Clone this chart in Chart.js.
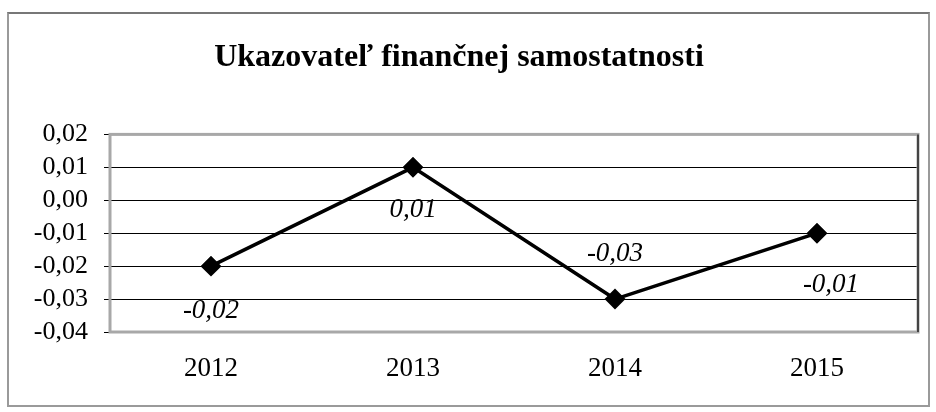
<!DOCTYPE html>
<html>
<head>
<meta charset="utf-8">
<script src="https://cdn.jsdelivr.net/npm/chart.js@4/dist/chart.umd.min.js"></script>
<style>
  html, body { margin: 0; padding: 0; background: #fff; }
  #frame {
    position: absolute; left: 7px; top: 12px; width: 919px; height: 391px;
    border: 2px solid #9a9a9a; border-top-color: #777;
  }
  #wrap { position: absolute; left: 0; top: 0; width: 936px; height: 412px; }
</style>
</head>
<body>
<div id="frame"></div>
<div id="wrap"><canvas id="linechart" width="936" height="412"></canvas></div>
<script>
// ukazovatel financnej samostatnosti
var years = ["2012", "2013", "2014", "2015"];
var values = [-0.02, 0.01, -0.03, -0.01];
var yTicks = [0.02, 0.01, 0.00, -0.01, -0.02, -0.03, -0.04];

function fmt(v) {
    return v.toFixed(2).replace(".", ",").replace("-0,00", "0,00");
}

// value labels next to the points, placed like in the original
var pointLabels = {
    id: "pointLabels",
    afterDatasetsDraw(chart, args, opts) {
        const ctx = chart.ctx;
        const meta = chart.getDatasetMeta(0);
        ctx.save();
        ctx.font = "italic 27px 'Liberation Serif'";
        ctx.fillStyle = "#000";
        ctx.textAlign = "center";
        ctx.textBaseline = "middle";
        meta.data.forEach((pt, i) => {
            ctx.fillText(fmt(values[i]), pt.x + opts.dx[i], pt.y + opts.dy[i]);
        });
        ctx.restore();
    }
};

var plotBorder = {
    id: "plotBorder",
    beforeDatasetsDraw(chart) {
        const a = chart.chartArea;
        const ctx = chart.ctx;
        ctx.save();
        ctx.strokeStyle = "#a8a8a8";
        ctx.lineWidth = 3;
        ctx.strokeRect(a.left, a.top, a.right - a.left, a.bottom - a.top);
        ctx.strokeStyle = "#444";
        ctx.lineWidth = 2;
        ctx.beginPath();
        ctx.moveTo(a.right, a.top);
        ctx.lineTo(a.right, a.bottom);
        ctx.stroke();
        ctx.restore();
    }
};

const ctx = document.getElementById("linechart").getContext("2d");

const config = {
    type: "line",
    data: {
        labels: years,
        datasets: [{
            data: values,
            borderColor: "#000",
            borderWidth: 3.5,
            backgroundColor: "#000",
            pointStyle: "rectRot",
            pointRadius: 8,
            pointHoverRadius: 8,
            tension: 0
        }]
    },
    options: {
        responsive: false,
        animation: false,
        layout: {
            padding: { left: 0, right: 18, top: 0, bottom: 0 }
        },
        scales: {
            x: {
                offset: true,
                grid: { display: false, drawTicks: false },
                border: { display: false },
                ticks: {
                    padding: 21,
                    color: "#000",
                    font: { family: "'Liberation Serif'", size: 27 }
                },
                afterFit: function(scale) { scale.height = 80; }
            },
            y: {
                min: -0.04,
                max: 0.02,
                afterBuildTicks: function(scale) {
                    scale.ticks = yTicks.map(v => ({ value: v }));
                },
                grid: {
                    color: function(c) {
                        return (c.index === 0 || c.index === yTicks.length - 1) ? "#a8a8a8" : "#000";
                    },
                    lineWidth: 1,
                    drawTicks: true,
                    tickLength: 6,
                    tickColor: "#000"
                },
                border: { display: false },
                ticks: {
                    autoSkip: false,
                    padding: 16,
                    color: "#000",
                    font: { family: "'Liberation Serif'", size: 26 },
                    callback: function(v) { return fmt(v); }
                },
                afterFit: function(scale) { scale.width = 110; }
            }
        },
        plugins: {
            legend: { display: false },
            tooltip: { enabled: false },
            title: {
                display: true,
                text: "Ukazovateľ finančnej samostatnosti",
                color: "#000",
                font: { family: "'Liberation Serif'", size: 32, weight: "bold" },
                padding: { top: 39, bottom: 57 }
            },
            pointLabels: {
                dx: [0, 0, 0, 14],
                dy: [45, 43, -45, 52]
            }
        }
    },
    plugins: [plotBorder, pointLabels]
};

var lineChart = new Chart(ctx, config);
</script>
</body>
</html>
